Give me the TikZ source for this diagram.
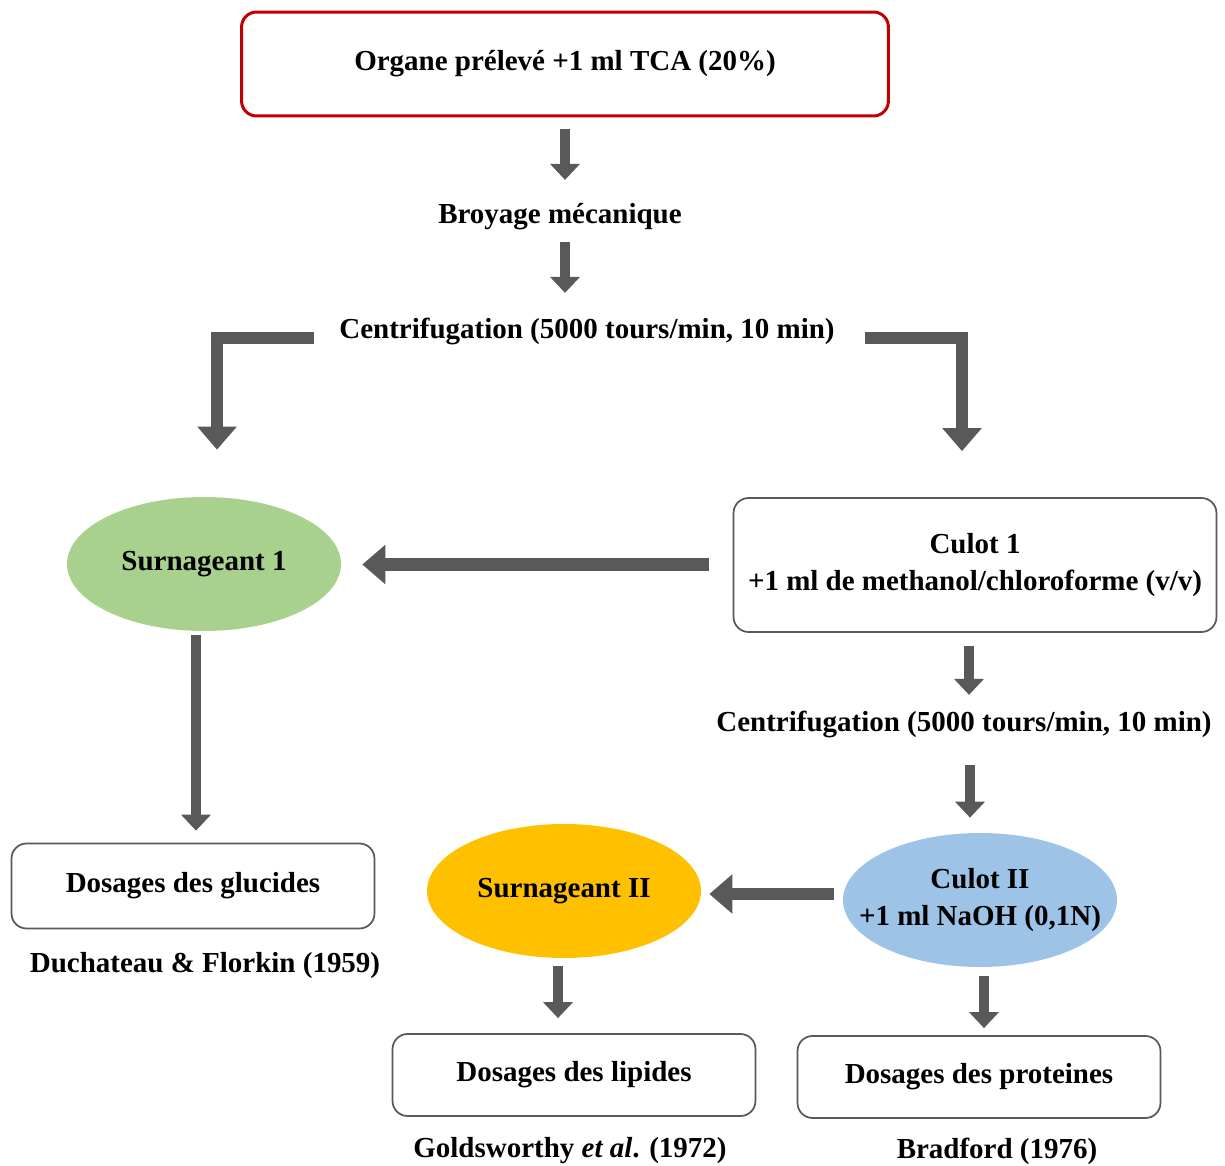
\documentclass[tikz,border=0pt]{standalone}
\usepackage{fontspec}
\setmainfont{Liberation Serif}
\usetikzlibrary{arrows.meta,shapes.geometric}
\definecolor{arrowgray}{HTML}{595959}
\definecolor{boxred}{HTML}{C00000}
\definecolor{surngreen}{HTML}{A9D18E}
\definecolor{surnorange}{HTML}{FFC000}
\definecolor{culotblue}{HTML}{9DC3E6}
\begin{document}
\begin{tikzpicture}[
    x=0.02cm, y=-0.02cm,
    every node/.style={font=\fontsize{16.5}{21}\selectfont\bfseries, align=center},
    step text/.style={inner sep=0pt, text height=11.5pt, text depth=3.6pt},
    redbox/.style={draw=boxred, line width=0.6mm, rounded corners=3mm, minimum width=12.94cm, minimum height=2.08cm},
    graybox/.style={draw=arrowgray, line width=0.35mm, rounded corners=3mm, minimum width=7.26cm, minimum height=1.7cm},
    blob/.style={ellipse, inner sep=0pt, minimum width=5.48cm, minimum height=2.68cm},
    flow/.style={draw=arrowgray, line width=2mm, -{Triangle[width=5.8mm, length=3.2mm]}},
    bigflow/.style={draw=arrowgray, line width=2.5mm, line join=miter, -{Triangle[width=7.6mm, length=4.6mm]}}
]
\useasboundingbox (0,0) rectangle (1225,1166);

% First steps
\node[redbox] (organe) at (565,64) {Organe prélevé +1 ml TCA (20\%)};
\node[step text] (broyage) at (560,217) {Broyage mécanique};
\node[step text] (centrif) at (587,332) {Centrifugation (5000 tours/min, 10 min)};

% Left branch
\node[blob, fill=surngreen] (surn1) at (204,564) {Surnageant 1};
\node[graybox] (glucides) at (193,886) {Dosages des glucides};
\node at (205,966) {Duchateau \& Florkin (1959)};

% Right branch
\node[graybox, minimum width=9.66cm, minimum height=2.68cm] (culot1) at (975,565)
    {Culot 1\\+1 ml de methanol/chloroforme (v/v)};
\node[step text] (centrif2) at (964,725) {Centrifugation (5000 tours/min, 10 min)};
\node[blob, fill=culotblue, inner xsep=-14pt] (culot2) at (980,900) {Culot II\\+1 ml NaOH (0,1N)};
\node[blob, fill=surnorange] (surn2) at (564,891) {Surnageant II};
\node[graybox, minimum height=1.64cm] (lipides) at (574,1075) {Dosages des lipides};
\node at (570,1151) {Goldsworthy \textit{et al}. (1972)};
\node[graybox, minimum height=1.64cm] (proteines) at (979,1077) {Dosages des proteines};
\node at (997,1151) {Bradford (1976)};

% Corners of the split arrows
\coordinate (lcorner) at (217,338);
\coordinate (rcorner) at (962,338);

% Arrows
\draw[flow, shorten <=2.4mm, shorten >=4.7mm] (organe.south) -- (organe.south |- broyage.north);
\draw[flow, shorten <=2.3mm, shorten >=5.1mm] (broyage.south -| organe.south) -- (organe.south |- centrif.north);
\draw[bigflow, shorten <=5mm, shorten >=9.4mm] (centrif.west |- lcorner) -- (lcorner) -- (lcorner |- surn1.north);
\draw[bigflow, shorten <=6mm, shorten >=9.2mm] (centrif.east |- rcorner) -- (rcorner) -- (rcorner |- culot1.north);
\draw[bigflow, shorten <=4.8mm, shorten >=4.2mm] ([yshift=0.1mm]culot1.west) -- ([yshift=0.1mm]culot1.west -| surn1.east);
\draw[flow, shorten <=0.8mm, shorten >=2.4mm] ([xshift=0.6mm]surn1.south -| glucides.north) -- ([xshift=0.6mm]glucides.north);
\draw[flow, shorten <=2.6mm, shorten >=3.3mm] ([xshift=1mm]culot1.south -| centrif2.north) -- ([xshift=1mm]centrif2.north);
\draw[flow, shorten <=5.3mm, shorten >=3mm] ([xshift=1.2mm]centrif2.south) -- ([xshift=1.2mm]centrif2.south |- culot2.north);
\draw[bigflow, shorten <=1.8mm, shorten >=1.6mm] ([yshift=1.2mm]culot2.west) -- ([yshift=1.2mm]culot2.west -| surn2.east);
\draw[flow, shorten <=1.6mm, shorten >=3mm] ([xshift=-1.2mm]surn2.south) -- ([xshift=-1.2mm]surn2.south |- lipides.north);
\draw[flow, shorten <=1.8mm, shorten >=1.4mm] ([xshift=0.8mm]culot2.south) -- ([xshift=0.8mm]culot2.south |- proteines.north);
\end{tikzpicture}
\end{document}
